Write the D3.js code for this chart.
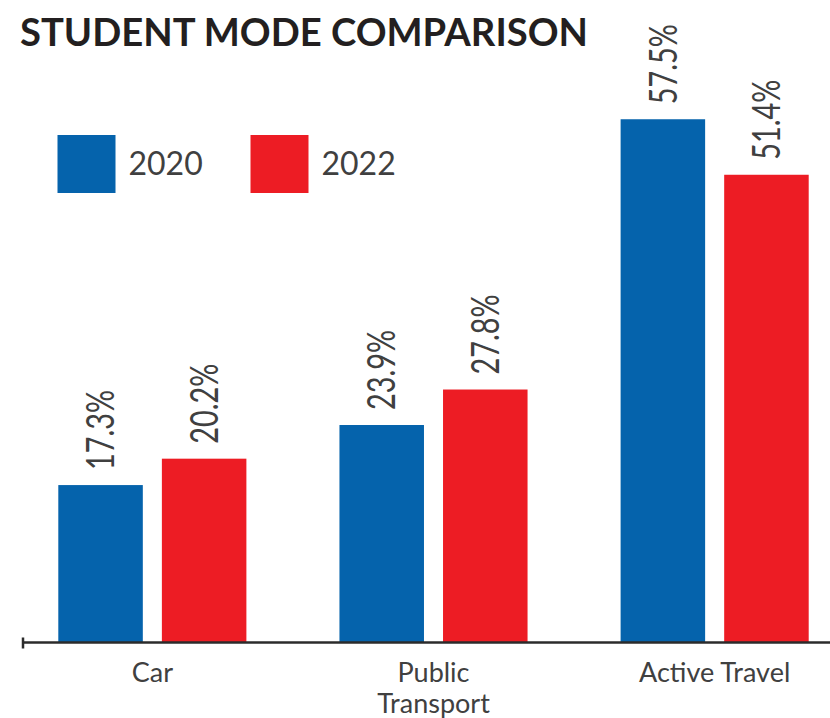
<!DOCTYPE html>
<html>
<head>
<meta charset="utf-8">
<title>Student Mode Comparison</title>
<script src="https://d3js.org/d3.v7.min.js"></script>
<style>
  body { margin: 0; background: #fff; }
  text { font-family: Lato, "Open Sans", sans-serif; }
</style>
</head>
<body>
<script>
// data
var categories = ["Car", "Public Transport", "Active Travel"];
var years = ["2020", "2022"];
var values2020 = [17.3, 23.9, 57.5];
var values2022 = [20.2, 27.8, 51.4];
var colors = ["#0563ac", "#ed1c24"];

var width = 830, height = 718,
    baseY = 642.5,
    textColor = "#404040";

var rows = categories.map(function (c, i) {
  return {cat: c, vals: [values2020[i], values2022[i]]};
});

var svg = d3.select("body").append("svg")
  .attr("width", width)
  .attr("height", height);

// scales
var x0 = d3.scaleBand()
  .domain(categories)
  .range([58.3, 808.7])
  .paddingInner(0.331)
  .paddingOuter(0);

var x1 = d3.scaleBand()
  .domain(years)
  .range([0, x0.bandwidth()])
  .paddingInner(0.184);

var y = d3.scaleLinear()
  .domain([0, 57.5])
  .range([baseY, baseY - 57.5 * 9.1]);

// title
svg.append("text")
  .attr("x", 20)
  .attr("y", 46)
  .attr("font-size", 38)
  .attr("font-weight", 700)
  .attr("fill", "#231f20")
  .attr("textLength", 568)
  .attr("lengthAdjust", "spacingAndGlyphs")
  .text("STUDENT MODE COMPARISON");

// bars
var groups = svg.selectAll(".group")
  .data(rows)
  .enter().append("g")
  .attr("class", "group")
  .attr("transform", function (d) { return "translate(" + x0(d.cat) + ",0)"; });

groups.selectAll("rect")
  .data(function (d) { return d.vals.map(function (v, i) { return {year: years[i], v: v, i: i}; }); })
  .enter().append("rect")
  .attr("x", function (d) { return x1(d.year); })
  .attr("y", function (d) { return y(d.v); })
  .attr("width", x1.bandwidth())
  .attr("height", function (d) { return baseY - y(d.v); })
  .attr("fill", function (d) { return colors[d.i]; });

// value labels (rotated)
groups.selectAll(".val")
  .data(function (d) { return d.vals.map(function (v, i) { return {year: years[i], v: v, i: i}; }); })
  .enter().append("text")
  .attr("class", "val")
  .attr("transform", function (d) {
    return "translate(" + (x1(d.year) + x1.bandwidth() / 2) + "," + (y(d.v) - 15) + ") rotate(-90) scale(0.76,1)";
  })
  .attr("dy", "0.36em")
  .attr("font-size", 38)
  .attr("fill", textColor)
  .text(function (d) { return d.v.toFixed(1) + "%"; });

// axis
var axis = svg.append("g").attr("class", "axis");
axis.append("line")
  .attr("x1", 23).attr("x2", width)
  .attr("y1", baseY).attr("y2", baseY)
  .attr("stroke", "#2b2b2b")
  .attr("stroke-width", 2.5);
axis.append("line")
  .attr("x1", 23).attr("x2", 23)
  .attr("y1", baseY - 5).attr("y2", baseY + 6)
  .attr("stroke", "#2b2b2b")
  .attr("stroke-width", 2.5);

axis.selectAll(".cat")
  .data(categories)
  .enter().append("text")
  .attr("class", "cat")
  .attr("x", function (d) { return x0(d) + x0.bandwidth() / 2; })
  .attr("y", 682)
  .attr("text-anchor", "middle")
  .attr("font-size", 27)
  .attr("fill", textColor)
  .each(function (d) {
    var t = d3.select(this);
    var lines = d === "Public Transport" ? ["Public", "Transport"] : [d];
    lines.forEach(function (l, i) {
      t.append("tspan")
        .attr("x", x0(d) + x0.bandwidth() / 2)
        .attr("dy", i === 0 ? 0 : 31)
        .text(l);
    });
  });

// legend
var legend = svg.selectAll(".legend")
  .data(years)
  .enter().append("g")
  .attr("class", "legend")
  .attr("transform", function (d, i) { return "translate(" + (57.5 + i * 193) + ",135)"; });

legend.append("rect")
  .attr("width", 58)
  .attr("height", 58)
  .attr("fill", function (d, i) { return colors[i]; });

legend.append("text")
  .attr("x", 71)
  .attr("y", 40)
  .attr("font-size", 32)
  .attr("fill", textColor)
  .text(function (d) { return d; });
</script>
</body>
</html>
